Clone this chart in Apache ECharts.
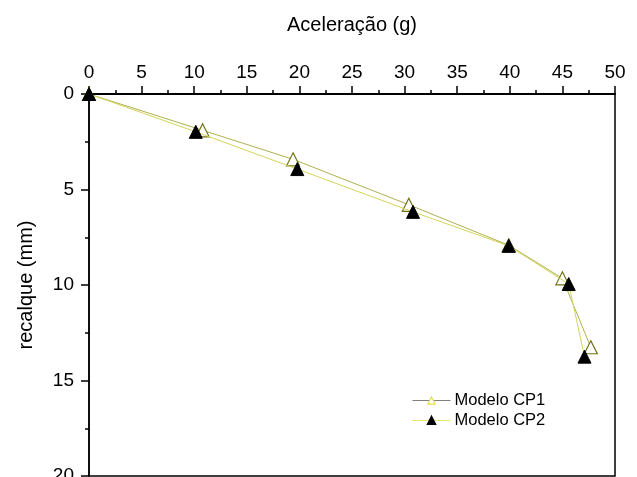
<!DOCTYPE html>
<html><head><meta charset="utf-8">
<script src="https://cdn.jsdelivr.net/npm/echarts@6/dist/echarts.min.js"></script>
<style>html,body{margin:0;padding:0;background:#fff;overflow:hidden}#c{width:637px;height:477px}</style>
</head><body><div id="c"></div>
<script>
const xTicks = [0,5,10,15,20,25,30,35,40,45,50];
const yTicks = [0,5,10,15,20];
const cp1Accel = [0, 10.8, 19.4, 30.4, 39.9, 45.0, 47.7];
const cp1Settle = [0, 1.9, 3.42, 5.8, 7.92, 9.65, 13.26];
const cp2Accel = [0, 10.15, 19.8, 30.8, 39.9, 45.6, 47.1];
const cp2Settle = [0, 1.98, 3.93, 6.17, 7.95, 9.95, 13.75];
const seriesNames = ['Modelo CP1', 'Modelo CP2'];

const font = 'Liberation Sans, Arial, sans-serif';
const chart = echarts.init(document.getElementById('c'));
chart.setOption({
  animation: false,
  backgroundColor: '#fff',
  grid: { left: 89, right: 22, top: 94, bottom: 1, show: true, borderColor: '#000', borderWidth: 1.5,
          containLabel: false, outerBoundsMode: 'none' },
  legend: {
    orient: 'vertical', left: 407, top: 387, itemGap: 3, itemWidth: 38, itemHeight: 9,
    textStyle: { fontFamily: font, fontSize: 16.5, color: '#000', padding: [0,0,0,-1] },
    data: [
      { name: seriesNames[0], lineStyle: { color: '#808080', width: 1 }, itemStyle: { color: '#fff', borderColor: '#e0e050', borderWidth: 1.2 } },
      { name: seriesNames[1], lineStyle: { color: '#e6e670', width: 1 }, itemStyle: { color: '#000', borderColor: '#000' } }
    ]
  },
  xAxis: {
    type: 'value', position: 'top', min: 0, max: 50, interval: 5,
    name: 'Aceleração (g)', nameLocation: 'middle', nameGap: 59,
    nameTextStyle: { fontFamily: font, fontSize: 20, color: '#000' },
    axisLine: { show: true, lineStyle: { color: '#000', width: 2 } },
    axisTick: { show: true, inside: false, length: 8, lineStyle: { color: '#000', width: 1.5 } },
    minorTick: { show: true, splitNumber: 2, length: 4, lineStyle: { color: '#000', width: 1.5 } },
    axisLabel: { fontFamily: font, fontSize: 19, color: '#000', margin: 12,
      formatter: v => xTicks.includes(v) ? String(v) : '' },
    splitLine: { show: false }
  },
  yAxis: {
    type: 'value', inverse: true, min: 0, max: 20, interval: 5,
    name: 'recalque (mm)', nameLocation: 'middle', nameGap: 53,
    nameTextStyle: { fontFamily: font, fontSize: 20, color: '#000' },
    axisLine: { show: true, lineStyle: { color: '#000', width: 1.5 } },
    axisTick: { show: true, inside: false, length: 8, lineStyle: { color: '#000', width: 1.5 } },
    minorTick: { show: true, splitNumber: 2, length: 4, lineStyle: { color: '#000', width: 1.5 } },
    axisLabel: { fontFamily: font, fontSize: 19, color: '#000', margin: 15,
      formatter: v => yTicks.includes(v) ? String(v) : '' },
    splitLine: { show: false }
  },
  series: [
    {
      name: seriesNames[0], type: 'line',
      data: cp1Accel.map((x, i) => [x, cp1Settle[i]]),
      symbol: 'triangle', symbolSize: 13,
      lineStyle: { color: '#b0b050', width: 1 },
      itemStyle: { color: '#fff', borderColor: '#707015', borderWidth: 1.2 },
      z: 2
    },
    {
      name: seriesNames[1], type: 'line',
      data: cp2Accel.map((x, i) => [x, cp2Settle[i]]),
      symbol: 'triangle', symbolSize: 13,
      lineStyle: { color: '#d4d45a', width: 1 },
      itemStyle: { color: '#000', borderColor: '#000', borderWidth: 1 },
      z: 3
    }
  ]
});
</script></body></html>
